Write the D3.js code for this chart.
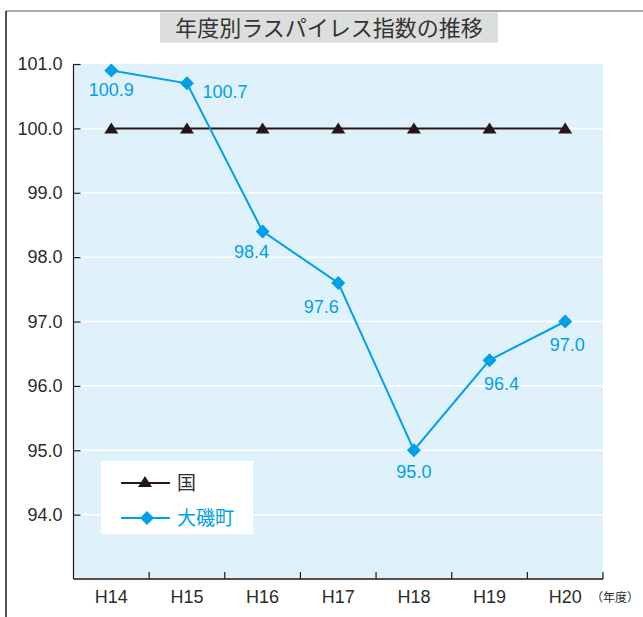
<!DOCTYPE html>
<html>
<head>
<meta charset="utf-8">
<script src="https://cdn.jsdelivr.net/npm/d3@7"></script>
<style>
  body { margin: 0; background: #fff; }
  text { font-family: "Liberation Sans", Arial, sans-serif; }
  .jp { font-family: "Noto Sans CJK JP", sans-serif; }
</style>
</head>
<body>
<script>
// data
var years = ['H14', 'H15', 'H16', 'H17', 'H18', 'H19', 'H20'];
var kuni = [100.0, 100.0, 100.0, 100.0, 100.0, 100.0, 100.0];
var oiso = [100.9, 100.7, 98.4, 97.6, 95.0, 96.4, 97.0];
var yTicks = [94, 95, 96, 97, 98, 99, 100, 101];
// where each value label sits relative to its point
var labelOffsets = [[0, 26], [38, 15], [-11, 27], [-17, 30], [0, 28], [12, 30], [2, 29]];

var width = 643, height = 617;
var pLeft = 73.5, pRight = 603, pTop = 64, pBottom = 579;
var blue = '#00a0e9', dark = '#231815', txt = '#2b2b2b';

var svg = d3.select('body').append('svg')
  .attr('width', width)
  .attr('height', height);

// outer frame (only top & left visible)
svg.append('line').attr('x1', 6).attr('x2', width).attr('y1', 11).attr('y2', 11)
  .attr('stroke', '#8c8c8c').attr('stroke-width', 1.5);
svg.append('line').attr('x1', 6).attr('x2', 6).attr('y1', 11).attr('y2', height)
  .attr('stroke', dark).attr('stroke-width', 1.5);

// title
svg.append('rect').attr('x', 160).attr('y', 12.5).attr('width', 338).attr('height', 30)
  .attr('fill', '#dcdddd');
svg.append('text').attr('class', 'jp')
  .attr('x', 329).attr('y', 28).attr('dy', '0.36em')
  .attr('text-anchor', 'middle')
  .attr('font-size', 22).attr('fill', '#333')
  .text('年度別ラスパイレス指数の推移');

var x = d3.scaleBand().domain(years).range([pLeft, pRight]);
var y = d3.scaleLinear().domain([93, 101]).range([pBottom, pTop]);
var cx = d => x(d) + x.bandwidth() / 2;

// plot bg
svg.append('rect').attr('x', pLeft).attr('y', pTop)
  .attr('width', pRight - pLeft).attr('height', pBottom - pTop)
  .attr('fill', '#dff1fb');

// gridlines
svg.selectAll('.grid').data(yTicks.filter(t => t < 101)).enter()
  .append('line')
  .attr('x1', pLeft).attr('x2', pRight)
  .attr('y1', d => y(d)).attr('y2', d => y(d))
  .attr('stroke', '#fff').attr('stroke-width', 1.5);

// y axis
var yAxis = d3.axisLeft(y).tickValues(yTicks).tickSize(-7).tickPadding(11)
  .tickFormat(d3.format('.1f'));
var gy = svg.append('g').attr('transform', 'translate(' + pLeft + ',0)').call(yAxis);
gy.select('.domain').attr('d', 'M0,' + pTop + 'V' + pBottom).attr('stroke', dark).attr('stroke-width', 1.2);
gy.selectAll('.tick line').attr('stroke', dark).attr('stroke-width', 1.2);
gy.selectAll('.tick text').attr('font-size', 18).attr('fill', txt)
  .attr('font-family', '"Liberation Sans", Arial, sans-serif');

// x axis, ticks at band edges
var xAxis = d3.axisBottom(x).tickSize(0).tickPadding(11);
var gx = svg.append('g').attr('transform', 'translate(0,' + pBottom + ')').call(xAxis);
gx.select('.domain').attr('stroke', dark).attr('stroke-width', 1.5).attr('d', 'M' + pLeft + ',0H' + pRight);
gx.selectAll('.tick text').attr('font-size', 18).attr('fill', txt)
  .attr('font-family', '"Liberation Sans", Arial, sans-serif');
var edges = years.map(d => x(d)).concat([pRight]);
svg.selectAll('.xtick').data(edges.slice(1)).enter()
  .append('line')
  .attr('x1', d => d).attr('x2', d => d)
  .attr('y1', pBottom).attr('y2', pBottom - 7)
  .attr('stroke', dark).attr('stroke-width', 1.2);
svg.append('text').attr('class', 'jp')
  .attr('x', 591).attr('y', 602)
  .attr('font-size', 12).attr('fill', txt)
  .text('（年度）');

var line = d3.line().x((d, i) => cx(years[i])).y(d => y(d));

// 国
svg.append('path').datum(kuni).attr('d', line)
  .attr('fill', 'none').attr('stroke', dark).attr('stroke-width', 2);
var tri = 'M0,-6L7,5L-7,5Z';
svg.selectAll('.tri').data(kuni).enter().append('path')
  .attr('d', tri)
  .attr('transform', (d, i) => 'translate(' + cx(years[i]) + ',' + y(d) + ')')
  .attr('fill', dark);

// 大磯町
svg.append('path').datum(oiso).attr('d', line)
  .attr('fill', 'none').attr('stroke', blue).attr('stroke-width', 2);
var diamond = 'M0,-7L7,0L0,7L-7,0Z';
svg.selectAll('.dia').data(oiso).enter().append('path')
  .attr('d', diamond)
  .attr('transform', (d, i) => 'translate(' + cx(years[i]) + ',' + y(d) + ')')
  .attr('fill', blue);
svg.selectAll('.lbl').data(oiso).enter().append('text')
  .attr('x', (d, i) => cx(years[i]) + labelOffsets[i][0])
  .attr('y', (d, i) => y(d) + labelOffsets[i][1])
  .attr('text-anchor', 'middle')
  .attr('font-size', 18).attr('fill', blue)
  .text(d => d.toFixed(1));

// legend
var lg = svg.append('g');
lg.append('rect').attr('x', 101).attr('y', 461).attr('width', 152).attr('height', 73).attr('fill', '#fff');
lg.append('line').attr('x1', 121).attr('x2', 170).attr('y1', 483).attr('y2', 483)
  .attr('stroke', dark).attr('stroke-width', 2);
lg.append('path').attr('d', tri).attr('transform', 'translate(145,482)').attr('fill', dark);
lg.append('text').attr('class', 'jp').attr('x', 177).attr('y', 483).attr('dy', '0.36em')
  .attr('font-size', 19).attr('fill', txt).text('国');
lg.append('line').attr('x1', 121).attr('x2', 170).attr('y1', 518).attr('y2', 518)
  .attr('stroke', blue).attr('stroke-width', 2);
lg.append('path').attr('d', diamond).attr('transform', 'translate(147,518)').attr('fill', blue);
lg.append('text').attr('class', 'jp').attr('x', 177).attr('y', 518).attr('dy', '0.36em')
  .attr('font-size', 19).attr('fill', blue).text('大磯町');
</script>
</body>
</html>
